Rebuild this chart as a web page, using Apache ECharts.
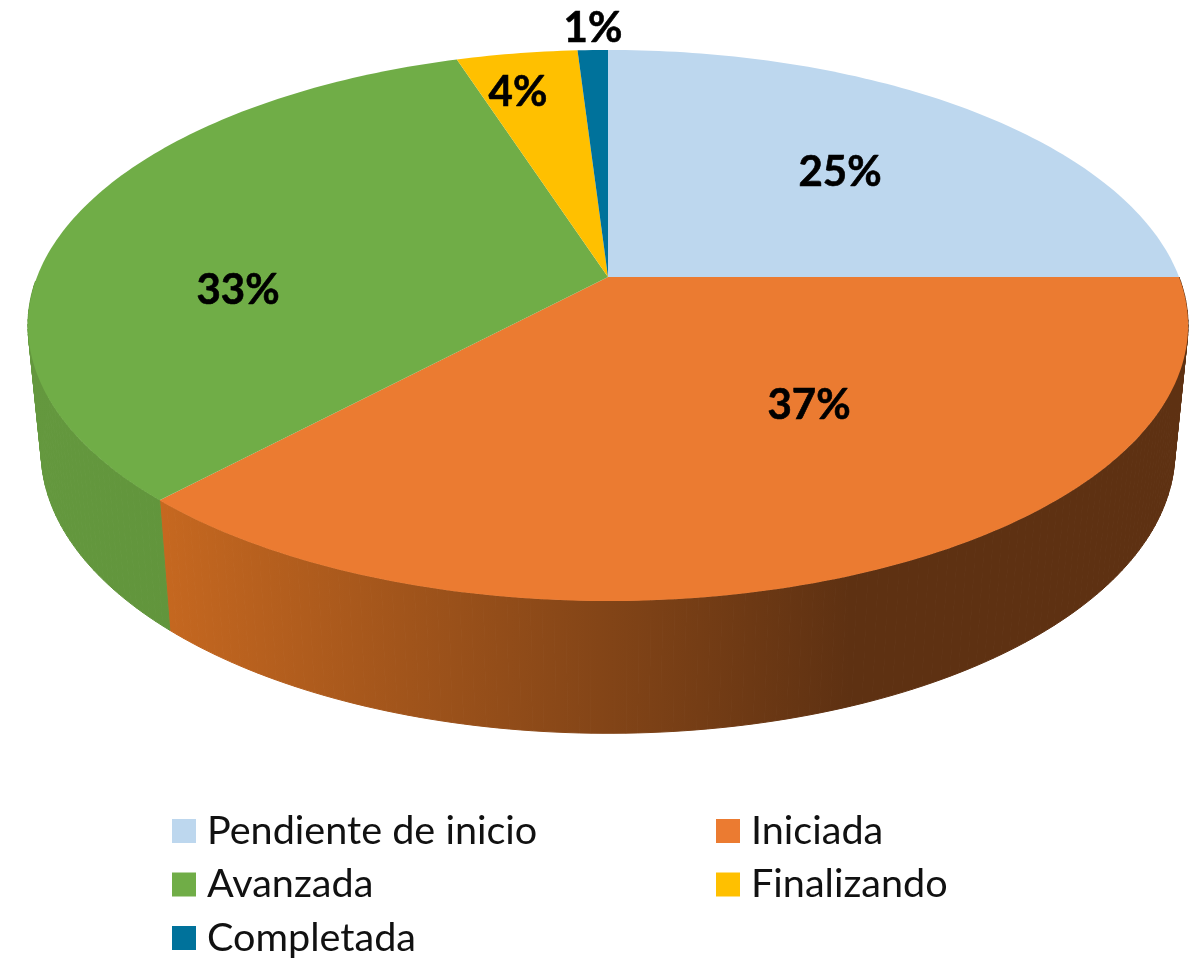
<!DOCTYPE html>
<html>
<head>
<meta charset="utf-8">
<style>html,body{margin:0;padding:0;background:#fff}#c{width:1201px;height:959px}</style>
<script src="https://cdn.jsdelivr.net/npm/echarts@6/dist/echarts.min.js"></script>
</head>
<body>
<div id="c"></div>
<script>
// Data
const categories = ['Pendiente de inicio', 'Iniciada', 'Avanzada', 'Finalizando', 'Completada'];
const shares = [25, 37, 33, 4, 1];

// Styles
const topColors = ['#BDD7EE', '#EB7B31', '#70AD47', '#FFC000', '#00729B'];
const wallStops = [
  ['#8FA2B4', '#8FA2B4'],
  ['#C66820', '#5E3112'],
  ['#64983E', '#5C8F38'],
  ['#BF9000', '#BF9000'],
  ['#005570', '#005570']
];
const labelAnchors = [[840, 172], [809, 405], [238, 290], [518, 92], [593, 28]];

// Perspective projection of the disc: top face and the lower rim
const topFace = { cx: 608, cy: 277, a: 571, b: 267, k: 0.176 };
const rimFace = { cx: 608, cy: 402, a: 558, b: 273, k: 0.176 };
function project(f, frac) {
  const t = frac * 2 * Math.PI, u = Math.sin(t), v = -Math.cos(t), d = 1 - f.k * v;
  return [f.cx + f.a * u / d, f.cy + f.b * v / d];
}
function arc(f, from, to) {
  const pts = [], n = Math.max(2, Math.ceil((to - from) * 360));
  for (let i = 0; i <= n; i++) pts.push(project(f, from + (to - from) * i / n));
  return pts;
}
const total = shares.reduce((s, x) => s + x, 0);

function makeRender(idx) {
  return function (params, api) {
    const val = api.value(0);
    let before = 0;
    for (let i = 0; i < idx; i++) before += shares[i];
    const from = before / total, to = (before + val) / total;
    const topArc = arc(topFace, from, to);
    const rimArc = arc(rimFace, from, to);
    const xs = topArc.concat(rimArc).map(p => p[0]);
    const stops = [{ offset: 0, color: wallStops[idx][0] }, { offset: 1, color: wallStops[idx][1] }];
    const grad = idx === 1
      ? new echarts.graphic.LinearGradient(160, 0, 850, 0, stops, true)
      : new echarts.graphic.LinearGradient(Math.min(...xs), 0, Math.max(...xs), 0, stops, true);
    const children = [];
    // the wall is swept as one quad per step; steps on the hidden back half are skipped
    for (let i = 0; i < topArc.length - 1; i++) {
      if (topArc[i][1] < topFace.cy || topArc[i + 1][1] < topFace.cy) continue;
      children.push({
        type: 'polygon', z2: 1,
        shape: { points: [topArc[i], topArc[i + 1], rimArc[i + 1], rimArc[i]] },
        style: { fill: grad, stroke: grad, lineWidth: 1 }
      });
    }
    children.push(
      { type: 'polygon', z2: 10, shape: { points: [[topFace.cx, topFace.cy]].concat(topArc) }, style: { fill: topColors[idx] } },
      { type: 'text', z2: 20, style: {
          text: val + '%', x: labelAnchors[idx][0], y: labelAnchors[idx][1],
          align: 'center', verticalAlign: 'middle',
          font: 'bold 42px Lato', fill: '#000', stroke: '#000', lineWidth: 0.6 } }
    );
    return { type: 'group', children };
  };
}

const chart = echarts.init(document.getElementById('c'), null, { renderer: 'canvas' });
const legendBase = {
  orient: 'vertical', icon: 'rect', itemWidth: 24, itemHeight: 24, itemGap: 7.5,
  padding: 0, selectedMode: false, height: 180, width: 420,
  textStyle: { fontFamily: 'Lato', fontSize: 39.6, color: '#111', lineHeight: 46, padding: [0, 0, 0, 6] }
};
chart.setOption({
  animation: false,
  backgroundColor: '#fff',
  legend: [
    Object.assign({}, legendBase, { left: 172, top: 808, data: [categories[0], categories[2], categories[4]] }),
    Object.assign({}, legendBase, { left: 716, top: 808, data: [categories[1], categories[3]] })
  ],
  series: categories.map((name, i) => ({
    type: 'custom', name, coordinateSystem: 'none', silent: true,
    itemStyle: { color: topColors[i] },
    data: [[shares[i]]],
    renderItem: makeRender(i)
  }))
});
</script>
</body>
</html>
